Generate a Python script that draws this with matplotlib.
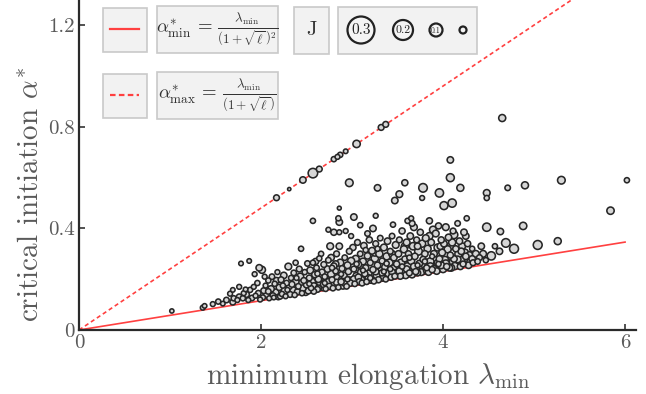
import numpy as np
import matplotlib
matplotlib.use('Agg')
import matplotlib.pyplot as plt
from matplotlib.patches import Rectangle, Circle

plt.rcParams['mathtext.fontset'] = 'cm'
plt.rcParams['font.family'] = 'serif'
plt.rcParams['font.serif'] = ['cmr10', 'DejaVu Serif']
plt.rcParams['axes.formatter.use_mathtext'] = True

# ---------------- data ----------------
ell = 10.0                 # model parameter l
lam_line = [0.0, 6.0]      # range of the bound lines

# dense cloud (lambda_min, alpha*, J)
cloud_lam = [1.02, 1.36, 1.38, 1.47,
    1.53, 1.58, 1.62, 1.66, 1.69, 1.70, 1.69, 1.74, 1.76, 1.76, 1.78, 1.80, 1.81, 1.84, 1.86, 1.87, 1.88, 1.90, 1.93, 1.94, 1.96, 1.97, 1.98, 1.99, 1.92, 1.83,
    2.01, 2.02, 2.03, 2.05, 2.06, 2.08, 2.09, 2.11, 2.12, 2.13, 2.15, 2.16, 2.18, 2.19, 2.20, 2.22, 2.23, 2.25, 2.26, 2.27, 2.28, 2.30, 2.31, 2.32, 2.33, 2.35, 2.36, 2.37, 2.38, 2.38, 2.40, 2.41, 2.42, 2.43, 2.44, 2.45, 2.46, 2.47, 2.48, 2.49, 2.08, 2.14, 2.21, 2.29, 2.34, 2.39, 2.44, 2.17, 2.24, 2.04,
    2.50, 2.51, 2.52, 2.53, 2.54, 2.55, 2.56, 2.57, 2.57, 2.58, 2.59, 2.60, 2.61, 2.62, 2.63, 2.64, 2.65, 2.66, 2.67, 2.68, 2.69, 2.70, 2.71, 2.72, 2.73, 2.74, 2.74, 2.75, 2.76, 2.77, 2.77, 2.78, 2.79, 2.80, 2.80, 2.81, 2.82, 2.83, 2.84, 2.85, 2.85, 2.86, 2.86, 2.86, 2.86, 2.87, 2.88, 2.89, 2.90, 2.91, 2.92, 2.93, 2.93, 2.94, 2.95, 2.96, 2.97, 2.98, 2.99, 2.99, 2.53, 2.62, 2.70, 2.78, 2.88, 2.95,
    3.00, 3.01, 3.02, 3.02, 3.03, 3.04, 3.05, 3.06, 3.07, 3.08, 3.09, 3.09, 3.10, 3.11, 3.12, 3.13, 3.14, 3.15, 3.16, 3.17, 3.17, 3.18, 3.19, 3.20, 3.21, 3.22, 3.23, 3.23, 3.24, 3.25, 3.26, 3.26, 3.27, 3.28, 3.29, 3.30, 3.31, 3.32, 3.33, 3.34, 3.35, 3.36, 3.37, 3.38, 3.39, 3.40, 3.41, 3.42, 3.43, 3.44, 3.45, 3.45, 3.46, 3.47, 3.48, 3.49, 3.05, 3.12, 3.20, 3.28, 3.35, 3.42, 3.15, 3.38,
    3.50, 3.51, 3.52, 3.53, 3.54, 3.55, 3.56, 3.57, 3.58, 3.59, 3.60, 3.61, 3.61, 3.62, 3.63, 3.64, 3.65, 3.65, 3.66, 3.66, 3.67, 3.68, 3.69, 3.70, 3.71, 3.72, 3.73, 3.74, 3.75, 3.76, 3.77, 3.78, 3.79, 3.80, 3.81, 3.82, 3.83, 3.84, 3.85, 3.86, 3.87, 3.88, 3.89, 3.90, 3.91, 3.92, 3.93, 3.94, 3.95, 3.96, 3.97, 3.98, 3.99, 3.55, 3.63, 3.72, 3.80, 3.88, 3.95,
    4.00, 4.01, 4.02, 4.03, 4.04, 4.05, 4.06, 4.07, 4.08, 4.09, 4.10, 4.11, 4.12, 4.12, 4.13, 4.14, 4.15, 4.16, 4.17, 4.18, 4.19, 4.20, 4.21, 4.22, 4.23, 4.24, 4.25, 4.26, 4.26, 4.27, 4.28, 4.29,
    4.32, 4.32, 4.33, 4.36, 4.38, 4.42, 4.44, 4.48, 4.53, 4.57, 4.62, 4.63, 4.69, 4.78, 4.88, 5.04, 5.26, 4.40, 4.47]
cloud_alpha = [0.075, 0.088, 0.095, 0.102,
    0.112, 0.104, 0.118, 0.143, 0.158, 0.125, 0.110, 0.118, 0.170, 0.131, 0.262, 0.125, 0.145, 0.140, 0.118, 0.272, 0.158, 0.126, 0.220, 0.135, 0.185, 0.145, 0.245, 0.120, 0.170, 0.160,
    0.237, 0.128, 0.155, 0.175, 0.140, 0.195, 0.125, 0.162, 0.210, 0.135, 0.182, 0.148, 0.228, 0.130, 0.168, 0.198, 0.142, 0.215, 0.156, 0.133, 0.185, 0.250, 0.172, 0.140, 0.205, 0.158, 0.225, 0.138, 0.265, 0.190, 0.150, 0.172, 0.240, 0.210, 0.320, 0.145, 0.165, 0.195, 0.228, 0.150, 0.152, 0.128, 0.132, 0.158, 0.180, 0.205, 0.182, 0.195, 0.175, 0.210,
    0.178, 0.262, 0.155, 0.205, 0.235, 0.165, 0.190, 0.265, 0.430, 0.152, 0.218, 0.175, 0.245, 0.160, 0.200, 0.282, 0.185, 0.300, 0.228, 0.168, 0.258, 0.210, 0.162, 0.192, 0.240, 0.395, 0.275, 0.172, 0.330, 0.285, 0.220, 0.198, 0.165, 0.385, 0.252, 0.180, 0.232, 0.300, 0.205, 0.168, 0.440, 0.480, 0.425, 0.385, 0.330, 0.265, 0.190, 0.242, 0.175, 0.215, 0.285, 0.390, 0.198, 0.172, 0.255, 0.230, 0.310, 0.185, 0.370, 0.272, 0.182, 0.222, 0.185, 0.245, 0.220, 0.200,
    0.192, 0.325, 0.445, 0.240, 0.182, 0.280, 0.212, 0.345, 0.258, 0.190, 0.413, 0.300, 0.228, 0.185, 0.270, 0.332, 0.205, 0.245, 0.190, 0.380, 0.292, 0.222, 0.355, 0.265, 0.198, 0.312, 0.400, 0.238, 0.192, 0.282, 0.450, 0.340, 0.215, 0.255, 0.198, 0.300, 0.362, 0.232, 0.272, 0.205, 0.325, 0.248, 0.200, 0.290, 0.350, 0.222, 0.265, 0.310, 0.208, 0.370, 0.415, 0.242, 0.285, 0.212, 0.335, 0.260, 0.260, 0.235, 0.205, 0.320, 0.230, 0.240, 0.315, 0.262,
    0.225, 0.300, 0.355, 0.212, 0.265, 0.390, 0.235, 0.318, 0.280, 0.215, 0.345, 0.430, 0.250, 0.300, 0.225, 0.370, 0.440, 0.272, 0.420, 0.218, 0.330, 0.405, 0.290, 0.240, 0.355, 0.225, 0.310, 0.262, 0.385, 0.228, 0.340, 0.278, 0.235, 0.300, 0.362, 0.245, 0.320, 0.228, 0.430, 0.270, 0.345, 0.238, 0.395, 0.300, 0.255, 0.380, 0.232, 0.325, 0.410, 0.280, 0.245, 0.355, 0.305, 0.250, 0.285, 0.255, 0.270, 0.290, 0.260,
    0.240, 0.340, 0.275, 0.405, 0.250, 0.318, 0.365, 0.262, 0.295, 0.245, 0.345, 0.390, 0.375, 0.280, 0.252, 0.320, 0.260, 0.420, 0.300, 0.350, 0.250, 0.275, 0.330, 0.260, 0.385, 0.305, 0.370, 0.440, 0.270, 0.340, 0.255, 0.295,
    0.280, 0.320, 0.265, 0.300, 0.270, 0.330, 0.300, 0.405, 0.292, 0.330, 0.310, 0.388, 0.343, 0.320, 0.410, 0.335, 0.350, 0.285, 0.275]
cloud_J = [0.03, 0.05, 0.04, 0.05,
    0.06, 0.04, 0.07, 0.05, 0.04, 0.06, 0.08, 0.05, 0.05, 0.07, 0.04, 0.06, 0.05, 0.08, 0.05, 0.04, 0.06, 0.07, 0.05, 0.05, 0.06, 0.07, 0.10, 0.05, 0.05, 0.04,
    0.12, 0.06, 0.08, 0.05, 0.09, 0.06, 0.05, 0.10, 0.07, 0.08, 0.06, 0.11, 0.05, 0.07, 0.09, 0.08, 0.06, 0.10, 0.12, 0.05, 0.07, 0.11, 0.09, 0.08, 0.06, 0.10, 0.07, 0.06, 0.06, 0.11, 0.09, 0.07, 0.08, 0.12, 0.06, 0.06, 0.10, 0.08, 0.06, 0.12, 0.07, 0.04, 0.06, 0.05, 0.08, 0.05, 0.13, 0.09, 0.06, 0.05,
    0.09, 0.07, 0.10, 0.08, 0.11, 0.06, 0.12, 0.06, 0.06, 0.07, 0.09, 0.13, 0.07, 0.08, 0.10, 0.06, 0.12, 0.06, 0.09, 0.11, 0.08, 0.07, 0.06, 0.13, 0.10, 0.05, 0.07, 0.09, 0.11, 0.10, 0.12, 0.08, 0.07, 0.09, 0.09, 0.14, 0.07, 0.08, 0.11, 0.06, 0.06, 0.02, 0.10, 0.05, 0.10, 0.12, 0.09, 0.08, 0.12, 0.10, 0.07, 0.05, 0.13, 0.07, 0.11, 0.09, 0.08, 0.10, 0.05, 0.12, 0.05, 0.06, 0.05, 0.06, 0.05, 0.06,
    0.11, 0.09, 0.10, 0.08, 0.07, 0.12, 0.13, 0.08, 0.10, 0.09, 0.06, 0.07, 0.12, 0.08, 0.11, 0.10, 0.14, 0.09, 0.07, 0.07, 0.10, 0.12, 0.09, 0.08, 0.12, 0.11, 0.10, 0.09, 0.07, 0.13, 0.05, 0.08, 0.11, 0.10, 0.09, 0.12, 0.07, 0.14, 0.08, 0.10, 0.11, 0.09, 0.07, 0.12, 0.10, 0.11, 0.13, 0.08, 0.09, 0.07, 0.06, 0.12, 0.10, 0.08, 0.11, 0.09, 0.06, 0.05, 0.06, 0.06, 0.05, 0.06, 0.06, 0.06,
    0.12, 0.10, 0.08, 0.09, 0.13, 0.09, 0.11, 0.12, 0.08, 0.10, 0.11, 0.06, 0.14, 0.09, 0.08, 0.10, 0.05, 0.12, 0.08, 0.10, 0.13, 0.11, 0.10, 0.12, 0.08, 0.09, 0.14, 0.10, 0.09, 0.11, 0.12, 0.09, 0.13, 0.10, 0.11, 0.08, 0.12, 0.10, 0.09, 0.13, 0.10, 0.09, 0.12, 0.11, 0.14, 0.11, 0.10, 0.12, 0.09, 0.10, 0.13, 0.09, 0.11, 0.06, 0.06, 0.05, 0.06, 0.05, 0.06,
    0.12, 0.10, 0.14, 0.11, 0.09, 0.12, 0.10, 0.13, 0.09, 0.11, 0.12, 0.08, 0.14, 0.10, 0.12, 0.09, 0.15, 0.07, 0.13, 0.10, 0.09, 0.12, 0.11, 0.08, 0.10, 0.12, 0.10, 0.06, 0.13, 0.09, 0.10, 0.11,
    0.10, 0.06, 0.08, 0.11, 0.07, 0.10, 0.11, 0.16, 0.16, 0.06, 0.10, 0.10, 0.17, 0.18, 0.13, 0.18, 0.12, 0.08, 0.06]

# extra points crowding the lower edge of the cloud
low_lam = [2.52, 2.58, 2.63, 2.69, 2.74, 2.79, 2.83, 2.89, 2.92, 2.97,
           3.02, 3.07, 3.10, 3.14, 3.18, 3.22, 3.26, 3.30, 3.33, 3.37, 3.40, 3.44, 3.48,
           3.52, 3.56, 3.60, 3.64, 3.68, 3.70, 3.74, 3.78, 3.82, 3.86, 3.90, 3.94, 3.98,
           4.03, 4.07, 4.11, 4.16, 4.21, 4.25, 4.30,
           3.25, 3.44, 3.58, 3.72, 3.85, 3.97, 4.08, 4.20, 2.60, 2.82, 2.93, 3.10]
low_alpha = [0.160, 0.172, 0.165, 0.180, 0.190, 0.178, 0.188, 0.200, 0.185, 0.195,
             0.200, 0.208, 0.198, 0.222, 0.205, 0.215, 0.230, 0.212, 0.225, 0.238, 0.215, 0.228, 0.240,
             0.232, 0.218, 0.240, 0.228, 0.250, 0.230, 0.245, 0.260, 0.235, 0.250, 0.240, 0.265, 0.255,
             0.262, 0.245, 0.268, 0.278, 0.262, 0.290, 0.268,
             0.305, 0.300, 0.330, 0.330, 0.370, 0.330, 0.330, 0.310, 0.270, 0.260, 0.230, 0.250]
low_J = [0.10, 0.12, 0.09, 0.11, 0.10, 0.12, 0.09, 0.11, 0.10, 0.12,
         0.11, 0.10, 0.12, 0.09, 0.11, 0.13, 0.10, 0.12, 0.09, 0.11, 0.12, 0.10, 0.13,
         0.11, 0.12, 0.10, 0.13, 0.11, 0.09, 0.12, 0.11, 0.10, 0.13, 0.12, 0.10, 0.11,
         0.12, 0.10, 0.13, 0.11, 0.12, 0.10, 0.12,
         0.12, 0.11, 0.12, 0.10, 0.12, 0.10, 0.12, 0.10, 0.09, 0.10, 0.11, 0.12]

# scattered points well above the cloud
upper_lam = [2.97, 3.28, 3.58, 3.78, 3.52, 3.47, 3.77, 3.96, 4.08, 4.08, 4.19, 4.01, 4.10,
             4.48, 4.48, 4.71, 4.90, 5.30, 6.02, 5.84, 4.65]
upper_alpha = [0.580, 0.560, 0.580, 0.560, 0.535, 0.510, 0.520, 0.540, 0.670, 0.600, 0.560, 0.490, 0.500,
               0.540, 0.520, 0.560, 0.570, 0.590, 0.590, 0.470, 0.835]
upper_J = [0.14, 0.10, 0.09, 0.17, 0.11, 0.10, 0.05, 0.16, 0.10, 0.15, 0.12, 0.15, 0.16,
           0.11, 0.06, 0.07, 0.12, 0.14, 0.06, 0.13, 0.12]

# points lying on the alpha*_max bound
edge_lam = [2.17, 2.31, 2.46, 2.57, 2.64, 2.80, 2.84, 2.87, 2.93, 3.05, 3.32, 3.37]
edge_alpha = [0.521, 0.555, 0.591, 0.618, 0.634, 0.673, 0.682, 0.690, 0.704, 0.733, 0.798, 0.810]
edge_J = [0.08, 0.00, 0.10, 0.20, 0.08, 0.06, 0.05, 0.06, 0.04, 0.13, 0.08, 0.08]

legend_J = [0.3, 0.2, 0.1, 0.0]
legend_J_labels = ['0.3', '0.2', '0.1', '']

# ---------------- figure ----------------
W, H = 646, 394
fig = plt.figure(figsize=(W / 100, H / 100), dpi=100)
ax = fig.add_axes([79 / W, (H - 330) / H, (636 - 79) / W, 330 / H])
ax.set_xlim(0, 6.12)
ax.set_ylim(0, 1.30)

TXT = '#5a5a5a'
LINE_RED = '#ff4040'

lam = np.array(lam_line)
ax.plot(lam, lam / (1 + np.sqrt(ell)) ** 2, color=LINE_RED, lw=1.2, zorder=2)
ax.plot(lam, lam / (1 + np.sqrt(ell)), color=LINE_RED, lw=1.2, ls=(0, (2.5, 1.8)), zorder=2)

def sizes(J):
    d_px = 3.3 + 31.0 * np.asarray(J)
    return (d_px * 0.72) ** 2

all_lam = cloud_lam + low_lam + upper_lam + edge_lam
all_alpha = cloud_alpha + low_alpha + upper_alpha + edge_alpha
all_J = cloud_J + low_J + upper_J + edge_J
order = np.argsort(all_J)[::-1]
ax.scatter(np.array(all_lam)[order], np.array(all_alpha)[order], s=sizes(np.array(all_J)[order]),
           facecolor='#d6d6d6', edgecolor='#262626', linewidth=1.15, zorder=3)

ax.set_xticks([0, 2, 4, 6])
ax.set_xticklabels(['0', '2', '4', '6'])
ax.set_yticks([0, 0.4, 0.8, 1.2])
ax.set_yticklabels(['0', '0.4', '0.8', '1.2'])
ax.tick_params(direction='in', length=4, width=1.2, color='#333333', labelcolor=TXT,
               labelsize=15, pad=3)
for s in ['top', 'right']:
    ax.spines[s].set_visible(False)
for s in ['left', 'bottom']:
    ax.spines[s].set_color('#2a2a2a')
    ax.spines[s].set_linewidth(1.6)

ax.set_xlabel(r'minimum elongation $\lambda_{\min}$', color=TXT, fontsize=21)
ax.set_ylabel(r'critical initiation $\alpha^{*}$', color=TXT, fontsize=21)
ax.xaxis.set_label_coords(0.52, -0.095)
ax.yaxis.set_label_coords(-0.062, 0.41)

# ---------------- legend overlay (pixel coordinates) ----------------
lax = fig.add_axes([0, 0, 1, 1], zorder=5)
lax.set_xlim(0, W)
lax.set_ylim(H, 0)
lax.axis('off')
lax.patch.set_alpha(0)

BOX_FC = '#f2f2f2'
BOX_EC = '#c9c9c9'
def box(x0, y0, x1, y1):
    lax.add_patch(Rectangle((x0, y0), x1 - x0, y1 - y0, fc=BOX_FC, ec=BOX_EC, lw=1.2))

box(103, 8, 147, 52)
box(157, 6, 278, 53)
box(294, 7, 329, 54)
box(338, 7, 477, 54)
box(103, 74, 147, 118)
box(157, 72, 278, 119)

lax.plot([110, 139], [29, 29], color=LINE_RED, lw=1.6)
lax.plot([110, 139], [95, 95], color=LINE_RED, lw=1.6, ls=(0, (2.5, 1.5)))

lax.text(217, 30, r'$\alpha^{*}_{\min}\,=\,\frac{\lambda_{\min}}{\left(1+\sqrt{\ell}\,\right)^{2}}$',
         ha='center', va='center', fontsize=13.5, color='#333333')
lax.text(217, 96, r'$\alpha^{*}_{\max}\,=\,\frac{\lambda_{\min}}{\left(1+\sqrt{\ell}\,\right)}$',
         ha='center', va='center', fontsize=13.5, color='#333333')
lax.text(311.5, 30, 'J', ha='center', va='center', fontsize=15, color='#333333')

leg_cx = [361, 403, 436, 463]
leg_d = [27, 20, 13, 7]
leg_fs = [11, 8.5, 5.5, 1]
for cx, d, lab, fs in zip(leg_cx, leg_d, legend_J_labels, leg_fs):
    lax.add_patch(Circle((cx, 30), d / 2, fc='#f4f4f4', ec='#222222', lw=1.6))
    if lab:
        lax.text(cx, 30.5, lab, ha='center', va='center', fontsize=fs, color='#222222')

fig.savefig('out.png', dpi=100)
